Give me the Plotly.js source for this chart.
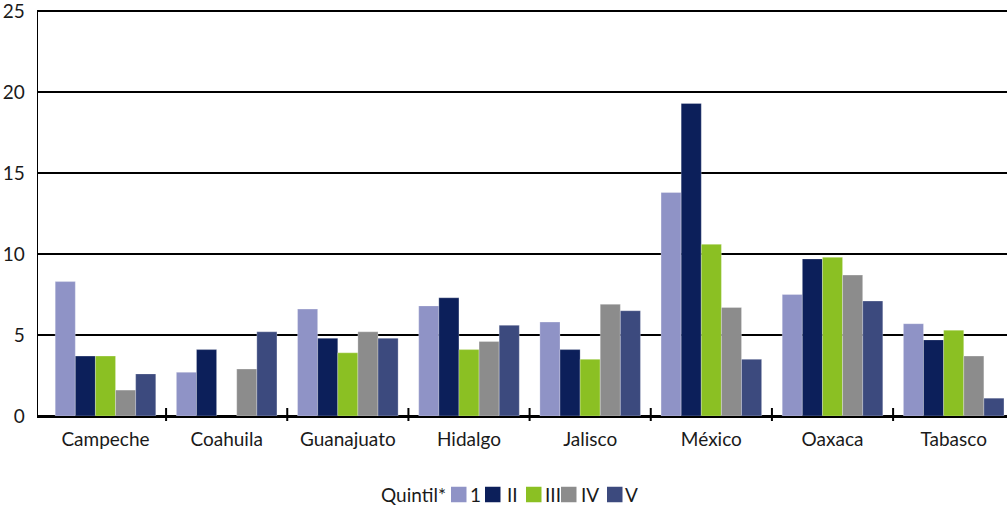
<!DOCTYPE html>
<html>
<head>
<meta charset="utf-8">
<script src="https://cdn.plot.ly/plotly-3.0.1.min.js"></script>
<style>
  html, body { margin: 0; padding: 0; background: #ffffff; }
  #chart { width: 1007px; height: 505px; }
</style>
</head>
<body>
<div id="chart"></div>
<script>
// States on the horizontal axis
const states = ["Campeche", "Coahuila", "Guanajuato", "Hidalgo", "Jalisco", "México", "Oaxaca", "Tabasco"];

// Quintile labels as shown in the legend
const quintileNames = ["1", "II", "III", "IV", "V"];
const legendTitle = "Quintil*";

// Values per quintile, one entry per state (null = no value)
const q1 = [8.3, 2.7, 6.6, 6.8, 5.8, 13.8, 7.5, 5.7];
const q2 = [3.7, 4.1, 4.8, 7.3, 4.1, 19.3, 9.7, 4.7];
const q3 = [3.7, null, 3.9, 4.1, 3.5, 10.6, 9.8, 5.3];
const q4 = [1.6, 2.9, 5.2, 4.6, 6.9, 6.7, 8.7, 3.7];
const q5 = [2.6, 5.2, 4.8, 5.6, 6.5, 3.5, 7.1, 1.1];

// Value-axis ticks
const yTicks = [0, 5, 10, 15, 20, 25];

const quintileColors = ["#8f93c6", "#0c1f5a", "#8bc023", "#8c8c8c", "#3c4a7e"];

const series = [q1, q2, q3, q4, q5];

const traces = series.map((vals, i) => ({
  type: "bar",
  name: quintileNames[i],
  x: states,
  y: vals,
  marker: {
    color: quintileColors[i],
    line: { color: "rgba(255,255,255,0.45)", width: 0.6 }
  },
  hoverinfo: "x+y+name"
}));

const textFont = { family: "Lato, Liberation Sans, Arial, sans-serif", size: 19, color: "#1a1a1a" };

// Plot-area geometry in pixels, used to place the hand-built legend
const W = 1007, H = 505;
const M = { l: 38, r: 0, t: 10, b: 89 };
const plotW = W - M.l - M.r;
const plotH = H - M.t - M.b;
const px2x = px => (px - M.l) / plotW;
const py2y = py => (H - M.b - py) / plotH;

// Legend: title, then a swatch and a label for each quintile
const legendY = 494.5;
const swatchLeft = [451, 485, 526, 561, 607];
const labelLeft = [469, 506, 544, 580, 624];
const swatchSize = 15.5;

const shapes = [];
const annotations = [];

annotations.push({
  xref: "paper", yref: "paper",
  x: px2x(380), y: py2y(legendY),
  xanchor: "left", yanchor: "middle", borderpad: 0,
  text: legendTitle, showarrow: false, font: textFont
});

quintileNames.forEach((name, i) => {
  shapes.push({
    type: "rect", xref: "paper", yref: "paper", layer: "below",
    x0: px2x(swatchLeft[i]), x1: px2x(swatchLeft[i] + swatchSize),
    y0: py2y(legendY + swatchSize / 2), y1: py2y(legendY - swatchSize / 2),
    fillcolor: quintileColors[i],
    line: { width: 0 }
  });
  annotations.push({
    xref: "paper", yref: "paper",
    x: px2x(labelLeft[i]), y: py2y(legendY),
    xanchor: "left", yanchor: "middle", borderpad: 0,
    text: name, showarrow: false, font: textFont
  });
});

// Category divider ticks crossing the horizontal axis
for (let i = 0; i < states.length - 1; i++) {
  shapes.push({
    type: "line", xref: "x", yref: "paper",
    x0: i + 0.5, x1: i + 0.5,
    y0: -5 / plotH, y1: 8 / plotH,
    line: { color: "#000000", width: 2 }
  });
}

const layout = {
  width: W,
  height: H,
  margin: { l: M.l, r: M.r, t: M.t, b: M.b, pad: 0 },
  paper_bgcolor: "#ffffff",
  plot_bgcolor: "#ffffff",
  barmode: "group",
  bargap: 0.17,
  bargroupgap: 0,
  font: textFont,
  showlegend: false,
  xaxis: {
    type: "category",
    range: [-0.557, 7.44],
    showgrid: false,
    showline: true,
    linecolor: "#000000",
    linewidth: 1.5,
    ticks: "",
    ticklabelstandoff: 6,
    ticklabeloverflow: "allow",
    tickfont: textFont,
    zeroline: false,
    fixedrange: true
  },
  yaxis: {
    range: [0, 25.07],
    tickvals: yTicks,
    showgrid: true,
    gridcolor: "#000000",
    gridwidth: 1.4,
    showline: true,
    linecolor: "#000000",
    linewidth: 1.5,
    ticks: "",
    ticklabelstandoff: 8,
    ticklabeloverflow: "allow",
    tickfont: textFont,
    zeroline: true,
    zerolinecolor: "#000000",
    zerolinewidth: 1.5,
    fixedrange: true
  },
  shapes: shapes,
  annotations: annotations
};

Plotly.newPlot("chart", traces, layout, { displayModeBar: false, staticPlot: true });
</script>
</body>
</html>
